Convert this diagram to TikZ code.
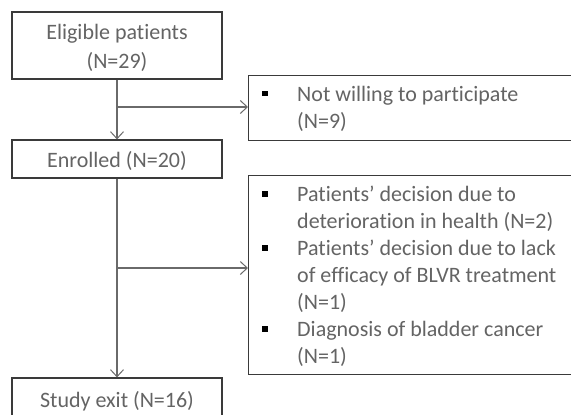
\documentclass[tikz,border=0pt]{standalone}
\usepackage{fontspec}
\setmainfont{Carlito}[Ligatures=NoCommon]
\usetikzlibrary{arrows.meta,calc}
\definecolor{txt}{HTML}{646464}
\definecolor{boxc}{HTML}{3A3A3A}
\definecolor{arr}{HTML}{6A6A6A}
\newcommand{\sqbul}{\textcolor{black}{\raisebox{5pt}{\rule{5.5pt}{5.5pt}}}}
\begin{document}
\begin{tikzpicture}[x=1pt,y=1pt,
  lbox/.style={draw=boxc, line width=1.2pt, minimum width=210pt, inner sep=0pt},
  ltext/.style={inner sep=0pt, align=center, text=txt, font=\fontsize{22}{29}\selectfont},
  rbox/.style={draw=boxc, line width=1.2pt, minimum width=340pt, anchor=north west, inner sep=0pt},
  rtext/.style={anchor=north west, inner sep=0pt, text=txt, font=\fontsize{22}{27}\selectfont},
  conn/.style={draw=arr, line width=1.1pt},
  tip/.style={-{Straight Barb[length=7pt,width=13pt,line width=1pt]}}]
\clip (0,0) rectangle (571,-415);
\fill[white] (0,0) rectangle (571,-415);
\node[lbox, minimum height=67pt] (elig) at (117,-45.5) {};
\node[ltext] (eligt) at ($(elig.center)+(0,-2.5)$) {Eligible patients\\(N=29)};
\node[lbox, minimum height=38pt] (enr) at (117,-159) {};
\node[ltext] (enrt) at ($(enr.center)+(0,-2)$) {Enrolled (N=20)};
\node[lbox, minimum height=46pt] (exit) at (117,-401) {};
\node[ltext] (exitt) at ($(exit.center)+(0,-0.5)$) {Study exit (N=16)};
\node[rbox, minimum height=65pt] (r1) at (248,-75) {};
\node[rbox, minimum height=199pt] (r2) at (248,-175) {};
\node[rtext] (r1t) at ($(r1.north west)+(14,-7)$) {\begin{tabular}{@{}p{35pt}@{}l@{}}\sqbul & Not willing to participate\\ & (N=9)\end{tabular}};
\node[rtext] (r2t) at ($(r2.north west)+(14,-7.5)$) {\begin{tabular}{@{}p{35pt}@{}l@{}}\sqbul & Patients’ decision due to\\ & deterioration in health (N=2)\\ \sqbul & Patients’ decision due to lack\\ & of efficacy of BLVR treatment\\ & (N=1)\\ \sqbul & Diagnosis of bladder cancer\\ & (N=1)\end{tabular}};
\coordinate (b1) at (elig.south |- 0,-107);
\coordinate (b2) at (enr.south |- 0,-268);
\draw[conn, tip] (elig.south) -- (enr.north);
\draw[conn, tip] (b1) -- (b1 -| r1.west);
\draw[conn, tip] (enr.south) -- (exit.north);
\draw[conn, tip] (b2) -- (b2 -| r2.west);
\end{tikzpicture}
\end{document}
